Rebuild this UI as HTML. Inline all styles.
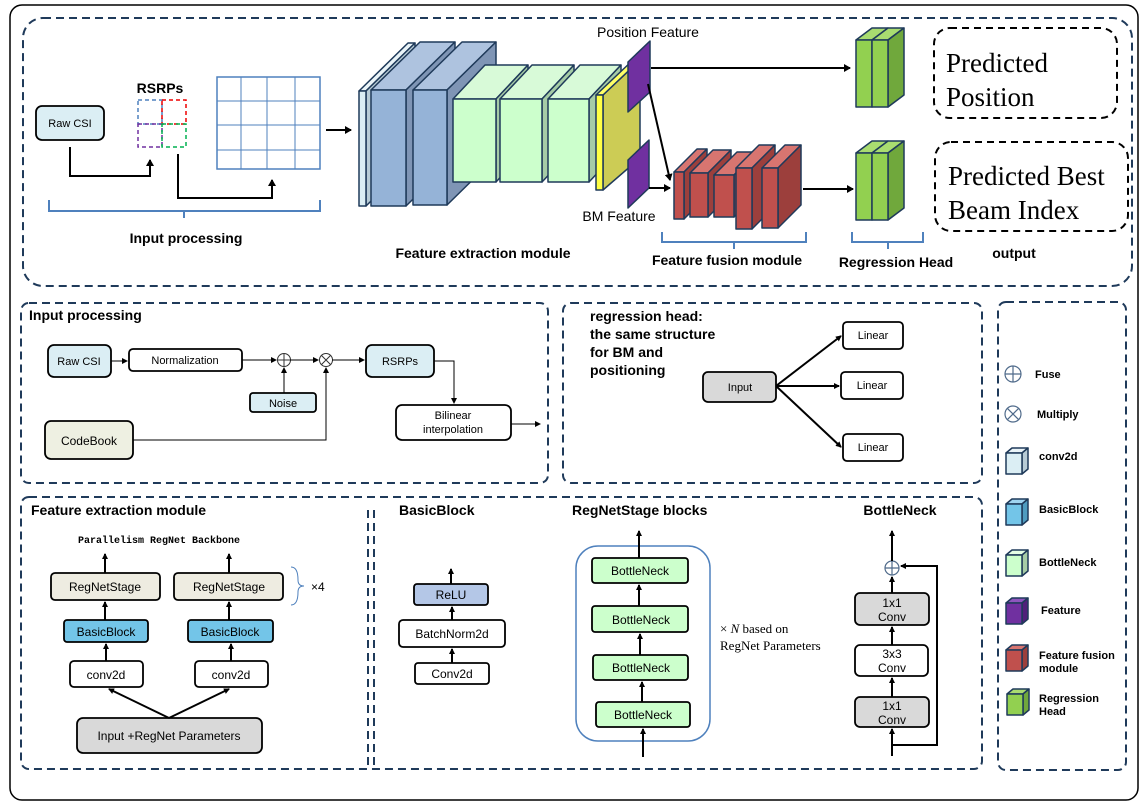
<!DOCTYPE html>
<html><head><meta charset="utf-8"><style>
html,body{margin:0;padding:0;background:#fff}
svg{display:block}
text{font-family:"Liberation Sans",sans-serif;fill:#000}
.b{font-weight:bold}
.dash{fill:none;stroke:#1f3a5a;stroke-width:2;stroke-dasharray:8,5}
.bx{stroke:#000;stroke-width:1.8}
.ln{stroke:#000;stroke-width:2;fill:none}
.tl{stroke:#000;stroke-width:1;fill:none}
.cs{stroke:#1f3a5a;stroke-width:1.5;stroke-linejoin:round}
</style></head><body>
<svg width="1144" height="809" viewBox="0 0 1144 809" xmlns="http://www.w3.org/2000/svg">
<defs>
<marker id="a" markerWidth="8" markerHeight="8" refX="6" refY="4" orient="auto" markerUnits="userSpaceOnUse"><path d="M0,0 L7,4 L0,8 z" fill="#000"/></marker>
<marker id="s" markerWidth="6" markerHeight="6" refX="5" refY="3" orient="auto" markerUnits="userSpaceOnUse"><path d="M0,0 L6,3 L0,6 z" fill="#000"/></marker>
</defs>
<rect x="10" y="5" width="1128" height="795" rx="12" fill="none" stroke="#000" stroke-width="1.5"/>
<rect x="23" y="18" width="1109" height="268" rx="20" class="dash"/>

<!-- top input processing -->
<rect x="36" y="106" width="68" height="34" rx="6" fill="#dbeef4" class="bx"/>
<text x="70" y="127" font-size="11" text-anchor="middle">Raw CSI</text>
<text x="160" y="93" font-size="14" class="b" text-anchor="middle">RSRPs</text>
<rect x="138" y="100" width="24" height="24" fill="none" stroke="#4f81bd" stroke-width="1.5" stroke-dasharray="4,3"/>
<rect x="162" y="100" width="24" height="24" fill="none" stroke="#e00" stroke-width="1.5" stroke-dasharray="4,3"/>
<rect x="138" y="124" width="24" height="23" fill="none" stroke="#7030a0" stroke-width="1.5" stroke-dasharray="4,3"/>
<rect x="162" y="124" width="24" height="23" fill="none" stroke="#00b050" stroke-width="1.5" stroke-dasharray="4,3"/>
<rect x="217" y="77" width="103" height="92" fill="none" stroke="#4f81bd" stroke-width="1.5"/>
<path d="M241,77V169M267,77V169M295,77V169M217,101H320M217,125H320M217,150H320" stroke="#4f81bd" stroke-width="1"/>
<path d="M70,147V176H150V160" class="ln" marker-end="url(#a)"/>
<path d="M178,154V198H272V180" class="ln" marker-end="url(#a)"/>
<path d="M49,200V211H320V200M184,211V218" fill="none" stroke="#4f81bd" stroke-width="2"/>
<text x="186" y="243" font-size="14" class="b" text-anchor="middle">Input processing</text>
<path d="M326,130H351" class="ln" marker-end="url(#a)"/>

<!-- feature extraction blocks -->
<g class="cs">
<polygon points="359,91 408,43 415,43 366,91" fill="#eaf4f8"/><polygon points="366,91 415,43 415,158 366,206" fill="#b8ccd6"/><rect x="359" y="91" width="7" height="115" fill="#dbeef4"/>
<polygon points="371,90 420,42 455,42 406,90" fill="#aec3df"/><polygon points="406,90 455,42 455,158 406,206" fill="#7f95b5"/><rect x="371" y="90" width="35" height="116" fill="#95b3d7"/>
<polygon points="413,90 462,42 496,42 447,90" fill="#aec3df"/><polygon points="447,90 496,42 496,157 447,205" fill="#7f95b5"/><rect x="413" y="90" width="34" height="115" fill="#95b3d7"/>
<polygon points="453,99 485,65 528,65 496,99" fill="#d8fad8"/><polygon points="496,99 528,65 528,148 496,182" fill="#a6cca6"/><rect x="453" y="99" width="43" height="83" fill="#ccffcc"/>
<polygon points="500,99 532,65 574,65 542,99" fill="#d8fad8"/><polygon points="542,99 574,65 574,148 542,182" fill="#a6cca6"/><rect x="500" y="99" width="42" height="83" fill="#ccffcc"/>
<polygon points="548,99 580,65 621,65 589,99" fill="#d8fad8"/><polygon points="589,99 621,65 621,148 589,182" fill="#a6cca6"/><rect x="548" y="99" width="41" height="83" fill="#ccffcc"/>
<polygon points="603,95 640,60 640,158 603,190" fill="#cccc55"/><polygon points="596,95 633,60 640,60 603,95" fill="#ffff66"/><rect x="596" y="95" width="7" height="95" fill="#ffff44"/>
<polygon points="628,112 628,62 650,41 650,92" fill="#7030a0"/>
<polygon points="628,208 628,160 649,140 649,188" fill="#7030a0"/>
</g>
<text x="648" y="37" font-size="14" text-anchor="middle">Position Feature</text>
<text x="619" y="221" font-size="14" text-anchor="middle">BM Feature</text>
<path d="M651,68H850" class="ln" marker-end="url(#a)"/>
<path d="M648,84L670,180" class="ln" marker-end="url(#a)"/>
<path d="M649,188H670" class="ln" marker-end="url(#a)"/>

<g class="cs">
<polygon points="674,172 697,149 707,149 684,172" fill="#d87570"/><polygon points="684,172 707,149 707,196 684,219" fill="#9c3f3c"/><rect x="674" y="172" width="10" height="47" fill="#c0504d"/>
<polygon points="690,173 713,150 731,150 708,173" fill="#d87570"/><polygon points="708,173 731,150 731,194 708,217" fill="#9c3f3c"/><rect x="690" y="173" width="18" height="44" fill="#c0504d"/>
<polygon points="714,175 737,152 757,152 734,175" fill="#d87570"/><polygon points="734,175 757,152 757,194 734,217" fill="#9c3f3c"/><rect x="714" y="175" width="20" height="42" fill="#c0504d"/>
<polygon points="736,168 759,145 775,145 752,168" fill="#d87570"/><polygon points="752,168 775,145 775,206 752,229" fill="#9c3f3c"/><rect x="736" y="168" width="16" height="61" fill="#c0504d"/>
<polygon points="762,168 785,145 801,145 778,168" fill="#d87570"/><polygon points="778,168 801,145 801,205 778,228" fill="#9c3f3c"/><rect x="762" y="168" width="16" height="60" fill="#c0504d"/>
</g>
<path d="M803,189H853" class="ln" marker-end="url(#a)"/>

<g class="cs">
<polygon points="856,40 872,28 888,28 872,40" fill="#a9dc70"/><rect x="856" y="40" width="16" height="67" fill="#92d050"/>
<polygon points="872,40 888,28 904,28 888,40" fill="#a9dc70"/><polygon points="888,40 904,28 904,95 888,107" fill="#70a83c"/><rect x="872" y="40" width="16" height="67" fill="#92d050"/>
<polygon points="856,153 872,141 888,141 872,153" fill="#a9dc70"/><rect x="856" y="153" width="16" height="67" fill="#92d050"/>
<polygon points="872,153 888,141 904,141 888,153" fill="#a9dc70"/><polygon points="888,153 904,141 904,208 888,220" fill="#70a83c"/><rect x="872" y="153" width="16" height="67" fill="#92d050"/>
</g>
<path d="M662,232V242H806V232M734,242V249" fill="none" stroke="#4f81bd" stroke-width="2"/>
<path d="M852,232V242H923V232M888,242V249" fill="none" stroke="#4f81bd" stroke-width="2"/>
<text x="483" y="258" font-size="14" class="b" text-anchor="middle">Feature extraction module</text>
<text x="727" y="265" font-size="14" class="b" text-anchor="middle">Feature fusion module</text>
<text x="896" y="267" font-size="14" class="b" text-anchor="middle">Regression Head</text>
<text x="1014" y="258" font-size="14" class="b" text-anchor="middle">output</text>
<rect x="934" y="28" width="183" height="90" rx="16" fill="none" stroke="#000" stroke-width="2" stroke-dasharray="7,5"/>
<text x="946" y="72" font-size="27" style="font-family:'Liberation Serif',serif">Predicted</text>
<text x="946" y="106" font-size="27" style="font-family:'Liberation Serif',serif">Position</text>
<rect x="935" y="142" width="193" height="89" rx="16" fill="none" stroke="#000" stroke-width="2" stroke-dasharray="7,5"/>
<text x="948" y="185" font-size="27" style="font-family:'Liberation Serif',serif">Predicted Best</text>
<text x="948" y="219" font-size="27" style="font-family:'Liberation Serif',serif">Beam Index</text>

<!-- input processing panel -->
<rect x="21" y="303" width="527" height="180" rx="8" class="dash"/>
<text x="29" y="320" font-size="14" class="b">Input processing</text>
<rect x="48" y="345" width="63" height="32" rx="6" fill="#dbeef4" class="bx"/>
<text x="79" y="365" font-size="11" text-anchor="middle">Raw CSI</text>
<rect x="129" y="349" width="113" height="22" rx="4" fill="#fff" class="bx"/>
<text x="185" y="364" font-size="11" text-anchor="middle">Normalization</text>
<rect x="366" y="345" width="68" height="32" rx="6" fill="#dbeef4" class="bx"/>
<text x="400" y="365" font-size="11" text-anchor="middle">RSRPs</text>
<rect x="250" y="393" width="66" height="19" rx="3" fill="#dbeef4" class="bx"/>
<text x="283" y="407" font-size="11" text-anchor="middle">Noise</text>
<rect x="45" y="421" width="88" height="38" rx="6" fill="#eef0e2" class="bx"/>
<text x="89" y="445" font-size="12" text-anchor="middle">CodeBook</text>
<rect x="396" y="405" width="115" height="35" rx="6" fill="#fff" class="bx"/>
<text x="453" y="419" font-size="11" text-anchor="middle">Bilinear</text>
<text x="453" y="433" font-size="11" text-anchor="middle">interpolation</text>
<circle cx="284" cy="360" r="6.5" fill="#fff" stroke="#333" stroke-width="1"/><path d="M277.5,360h13M284,353.5v13" stroke="#333" stroke-width="1"/>
<circle cx="326" cy="360" r="6.5" fill="#fff" stroke="#333" stroke-width="1"/><path d="M321.4,355.4l9.2,9.2M330.6,355.4l-9.2,9.2" stroke="#333" stroke-width="1"/>
<path d="M111,361H127" class="tl" marker-end="url(#s)"/>
<path d="M242,360H276" class="tl" marker-end="url(#s)"/>
<path d="M290,360H318" class="tl" marker-end="url(#s)"/>
<path d="M332,360H364" class="tl" marker-end="url(#s)"/>
<path d="M284,393V368" class="tl" marker-end="url(#s)"/>
<path d="M133,440H326V368" class="tl" marker-end="url(#s)"/>
<path d="M434,361H454V403" class="tl" marker-end="url(#s)"/>
<path d="M511,424H540" class="tl" marker-end="url(#s)"/>

<!-- regression head panel -->
<rect x="563" y="303" width="419" height="180" rx="8" class="dash"/>
<text x="590" y="321" font-size="14" class="b">regression head:</text>
<text x="590" y="339" font-size="14" class="b">the same structure</text>
<text x="590" y="357" font-size="14" class="b">for BM and</text>
<text x="590" y="375" font-size="14" class="b">positioning</text>
<rect x="703" y="372" width="73" height="30" rx="5" fill="#d9d9d9" class="bx"/>
<text x="740" y="391" font-size="11" text-anchor="middle">Input</text>
<rect x="843" y="322" width="60" height="27" rx="4" fill="#fff" class="bx"/><text x="873" y="339" font-size="11" text-anchor="middle">Linear</text>
<rect x="841" y="372" width="62" height="27" rx="4" fill="#fff" class="bx"/><text x="872" y="389" font-size="11" text-anchor="middle">Linear</text>
<rect x="843" y="434" width="60" height="27" rx="4" fill="#fff" class="bx"/><text x="873" y="451" font-size="11" text-anchor="middle">Linear</text>
<path d="M776,386L841,336" class="ln" marker-end="url(#s)"/>
<path d="M776,386H839" class="ln" marker-end="url(#s)"/>
<path d="M776,386L841,447" class="ln" marker-end="url(#s)"/>

<!-- bottom panel -->
<rect x="21" y="497" width="961" height="272" rx="8" class="dash"/>
<path d="M368,510V766M374,510V766" class="dash"/>
<text x="31" y="515" font-size="14" class="b">Feature extraction module</text>
<text x="159" y="543" font-size="10" class="b" text-anchor="middle" style="font-family:'Liberation Mono',monospace">Parallelism RegNet Backbone</text>
<rect x="51" y="573" width="109" height="27" rx="4" fill="#eeece1" class="bx"/><text x="105" y="591" font-size="12" text-anchor="middle">RegNetStage</text>
<rect x="174" y="573" width="109" height="27" rx="4" fill="#eeece1" class="bx"/><text x="229" y="591" font-size="12" text-anchor="middle">RegNetStage</text>
<rect x="64" y="620" width="84" height="22" rx="3" fill="#73c5e8" class="bx"/><text x="106" y="636" font-size="12" text-anchor="middle">BasicBlock</text>
<rect x="188" y="620" width="85" height="22" rx="3" fill="#73c5e8" class="bx"/><text x="230" y="636" font-size="12" text-anchor="middle">BasicBlock</text>
<rect x="70" y="661" width="73" height="26" rx="4" fill="#fff" class="bx"/><text x="106" y="679" font-size="12" text-anchor="middle">conv2d</text>
<rect x="195" y="661" width="73" height="26" rx="4" fill="#fff" class="bx"/><text x="231" y="679" font-size="12" text-anchor="middle">conv2d</text>
<rect x="77" y="718" width="185" height="35" rx="6" fill="#d9d9d9" class="bx"/><text x="169" y="740" font-size="12" text-anchor="middle">Input +RegNet Parameters</text>
<path d="M105,573V554" class="ln" marker-end="url(#s)"/>
<path d="M229,573V554" class="ln" marker-end="url(#s)"/>
<path d="M105,620V602" class="ln" marker-end="url(#s)"/>
<path d="M229,620V602" class="ln" marker-end="url(#s)"/>
<path d="M106,661V644" class="ln" marker-end="url(#s)"/>
<path d="M231,661V644" class="ln" marker-end="url(#s)"/>
<path d="M169,718L109,689" class="ln" marker-end="url(#s)"/>
<path d="M169,718L229,689" class="ln" marker-end="url(#s)"/>
<path d="M291,567Q298,567 298,580Q298,586 304,586Q298,586 298,592Q298,605 291,605" fill="none" stroke="#4f81bd" stroke-width="1"/>
<text x="311" y="591" font-size="12">×4</text>

<text x="399" y="515" font-size="14" class="b">BasicBlock</text>
<rect x="414" y="584" width="74" height="21" rx="3" fill="#b4c7e7" class="bx"/><text x="451" y="599" font-size="12" text-anchor="middle">ReLU</text>
<rect x="399" y="620" width="106" height="27" rx="4" fill="#fff" class="bx"/><text x="452" y="638" font-size="12" text-anchor="middle">BatchNorm2d</text>
<rect x="415" y="663" width="74" height="21" rx="3" fill="#fff" class="bx"/><text x="452" y="678" font-size="12" text-anchor="middle">Conv2d</text>
<path d="M451,584V569" class="ln" marker-end="url(#s)"/>
<path d="M452,620V607" class="ln" marker-end="url(#s)"/>
<path d="M452,663V649" class="ln" marker-end="url(#s)"/>

<text x="572" y="515" font-size="14" class="b">RegNetStage blocks</text>
<rect x="576" y="546" width="134" height="195" rx="22" fill="none" stroke="#4f81bd" stroke-width="1.5"/>
<rect x="592" y="558" width="96" height="25" rx="3" fill="#ccffcc" class="bx"/><text x="640" y="575" font-size="12" text-anchor="middle">BottleNeck</text>
<rect x="592" y="606" width="96" height="26" rx="3" fill="#ccffcc" class="bx"/><text x="641" y="624" font-size="12" text-anchor="middle">BottleNeck</text>
<rect x="593" y="655" width="95" height="25" rx="3" fill="#ccffcc" class="bx"/><text x="641" y="672" font-size="12" text-anchor="middle">BottleNeck</text>
<rect x="596" y="702" width="94" height="25" rx="3" fill="#ccffcc" class="bx"/><text x="643" y="719" font-size="12" text-anchor="middle">BottleNeck</text>
<path d="M639,558V531" class="ln" marker-end="url(#s)"/>
<path d="M639,606V585" class="ln" marker-end="url(#s)"/>
<path d="M640,655V634" class="ln" marker-end="url(#s)"/>
<path d="M642,702V682" class="ln" marker-end="url(#s)"/>
<path d="M643,757V729" class="ln" marker-end="url(#s)"/>
<text x="720" y="633" font-size="13" style="font-family:'Liberation Serif',serif">× <tspan font-style="italic">N</tspan>  based on</text>
<text x="720" y="650" font-size="13" style="font-family:'Liberation Serif',serif">RegNet Parameters</text>

<text x="900" y="515" font-size="14" class="b" text-anchor="middle">BottleNeck</text>
<rect x="855" y="593" width="74" height="32" rx="5" fill="#d9d9d9" class="bx"/><text x="892" y="607" font-size="12" text-anchor="middle">1x1</text><text x="892" y="621" font-size="12" text-anchor="middle">Conv</text>
<rect x="855" y="645" width="73" height="31" rx="5" fill="#fff" class="bx"/><text x="892" y="658" font-size="12" text-anchor="middle">3x3</text><text x="892" y="672" font-size="12" text-anchor="middle">Conv</text>
<rect x="855" y="697" width="74" height="30" rx="5" fill="#d9d9d9" class="bx"/><text x="892" y="710" font-size="12" text-anchor="middle">1x1</text><text x="892" y="724" font-size="12" text-anchor="middle">Conv</text>
<circle cx="892" cy="568" r="7" fill="#fff" stroke="#4f6a8a" stroke-width="1.2"/><path d="M885,568h14M892,561v14" stroke="#4f6a8a" stroke-width="1.2"/>
<path d="M892,561V531" class="ln" marker-end="url(#s)"/>
<path d="M892,593V577" class="ln" marker-end="url(#s)"/>
<path d="M892,645V627" class="ln" marker-end="url(#s)"/>
<path d="M892,697V678" class="ln" marker-end="url(#s)"/>
<path d="M892,756V729" class="ln" marker-end="url(#s)"/>
<path d="M892,745H937V566H901" class="ln" marker-end="url(#s)"/>

<!-- legend -->
<rect x="998" y="302" width="128" height="468" rx="8" class="dash"/>
<circle cx="1013" cy="374" r="8" fill="#fff" stroke="#4f6a8a" stroke-width="1.2"/><path d="M1005,374h16M1013,366v16" stroke="#4f6a8a" stroke-width="1.2"/>
<text x="1035" y="378" font-size="11" class="b">Fuse</text>
<circle cx="1013" cy="414" r="8" fill="#fff" stroke="#4f6a8a" stroke-width="1.2"/><path d="M1007.3,408.3l11.4,11.4M1018.7,408.3l-11.4,11.4" stroke="#4f6a8a" stroke-width="1.2"/>
<text x="1037" y="418" font-size="11" class="b">Multiply</text>
<g class="cs">
<g transform="translate(1006,448)"><polygon points="0,5 6,0 22,0 16,5" fill="#eaf4f8"/><polygon points="16,5 22,0 22,21 16,26" fill="#b8ccd6"/><rect x="0" y="5" width="16" height="21" fill="#dbeef4"/></g>
<g transform="translate(1006,499)"><polygon points="0,5 6,0 22,0 16,5" fill="#9fd4f0"/><polygon points="16,5 22,0 22,21 16,26" fill="#4f9cc0"/><rect x="0" y="5" width="16" height="21" fill="#73c5e8"/></g>
<g transform="translate(1006,550)"><polygon points="0,5 6,0 22,0 16,5" fill="#e5ffe5"/><polygon points="16,5 22,0 22,21 16,26" fill="#a6cca6"/><rect x="0" y="5" width="16" height="21" fill="#ccffcc"/></g>
<g transform="translate(1006,598)"><polygon points="0,5 6,0 22,0 16,5" fill="#8f55bf"/><polygon points="16,5 22,0 22,21 16,26" fill="#50207a"/><rect x="0" y="5" width="16" height="21" fill="#7030a0"/></g>
<g transform="translate(1006,645)"><polygon points="0,5 6,0 22,0 16,5" fill="#d87570"/><polygon points="16,5 22,0 22,21 16,26" fill="#9c3f3c"/><rect x="0" y="5" width="16" height="21" fill="#c0504d"/></g>
<g transform="translate(1007,689)"><polygon points="0,5 6,0 22,0 16,5" fill="#a9dc70"/><polygon points="16,5 22,0 22,21 16,26" fill="#70a83c"/><rect x="0" y="5" width="16" height="21" fill="#92d050"/></g>
</g>
<text x="1039" y="460" font-size="11" class="b">conv2d</text>
<text x="1039" y="513" font-size="11" class="b">BasicBlock</text>
<text x="1039" y="566" font-size="11" class="b">BottleNeck</text>
<text x="1041" y="614" font-size="11" class="b">Feature</text>
<text x="1039" y="659" font-size="11" class="b">Feature fusion</text>
<text x="1039" y="672" font-size="11" class="b">module</text>
<text x="1039" y="702" font-size="11" class="b">Regression</text>
<text x="1039" y="715" font-size="11" class="b">Head</text>
</svg>
</body></html>
